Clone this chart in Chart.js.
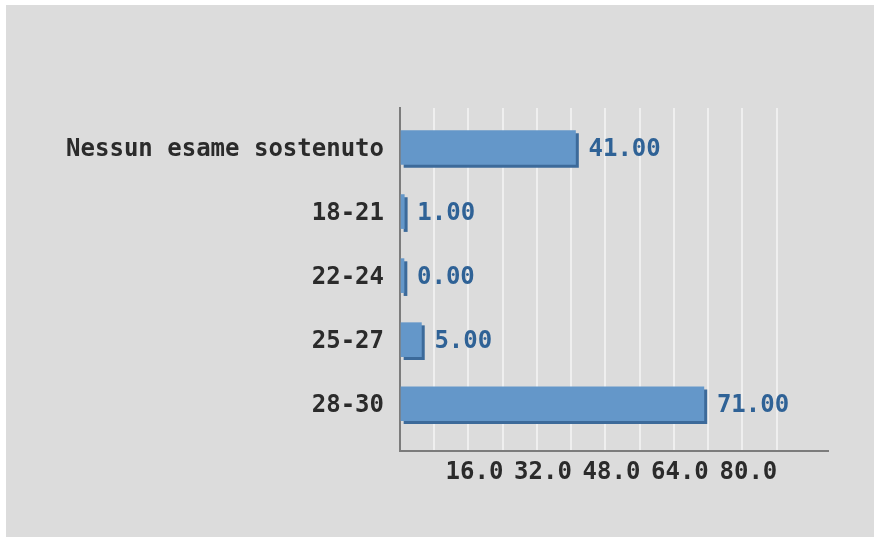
<!DOCTYPE html>
<html>
<head>
<meta charset="utf-8">
<script src="https://cdn.jsdelivr.net/npm/chart.js@4.4.1/dist/chart.umd.min.js"></script>
<style>
  body { margin: 0; background: #ffffff; }
  #sfondo { position: absolute; left: 6px; top: 5px; width: 868px; height: 532px; background: #dcdcdc; }
  #myChart { position: absolute; left: 0; top: 0; }
</style>
</head>
<body>
<div id="sfondo"></div>
<canvas id="myChart" width="880" height="542"></canvas>
<script>
const categorie = ['Nessun esame sostenuto', '18-21', '22-24', '25-27', '28-30'];
const valori = [41, 1, 0, 5, 71];
const tickX = [16, 32, 48, 64, 80];

const fontBase = { family: '"DejaVu Sans Mono", monospace', size: 24, weight: 'bold' };

// ombra sotto le barre + etichette dei valori
const ombraEValori = {
    id: 'ombraEValori',
    beforeDatasetsDraw(chart) {
        const ctx = chart.ctx;
        ctx.save();
        ctx.shadowColor = '#3c6a9a';
        ctx.shadowOffsetX = 3;
        ctx.shadowOffsetY = 3;
        ctx.shadowBlur = 0;
    },
    afterDatasetsDraw(chart) {
        const ctx = chart.ctx;
        ctx.restore();
        ctx.save();
        ctx.font = 'bold 24px "DejaVu Sans Mono", monospace';
        ctx.fillStyle = '#2f6296';
        ctx.textBaseline = 'middle';
        ctx.textAlign = 'left';
        chart.getDatasetMeta(0).data.forEach((bar, i) => {
            ctx.fillText(valori[i].toFixed(2), bar.x + 13, bar.y + 2);
        });
        ctx.restore();
    }
};

const ctx = document.getElementById('myChart').getContext('2d');
const myChart = new Chart(ctx, {
    type: 'bar',
    data: {
        datasets: [{
            data: valori.map((v, i) => ({ x: v, y: i })),
            backgroundColor: '#6497c9',
            borderWidth: 0,
            barThickness: 34,
            minBarLength: 4
        }]
    },
    options: {
        indexAxis: 'y',
        responsive: false,
        animation: false,
        layout: { padding: { top: 108, right: 52, bottom: 0, left: 0 } },
        plugins: { legend: { display: false }, tooltip: { enabled: false } },
        scales: {
            x: {
                type: 'linear',
                min: 0,
                max: 100,
                afterFit: s => { s.height = 91; },
                ticks: {
                    stepSize: 8,
                    autoSkip: false,
                    maxRotation: 0,
                    padding: 7,
                    labelOffset: 6,
                    color: '#2b2b2b',
                    font: fontBase,
                    callback: v => tickX.includes(v) ? v.toFixed(1) : ''
                },
                grid: {
                    drawTicks: false,
                    lineWidth: 2,
                    color: c => (c.tick && c.tick.value > 0 && c.tick.value < 100) ? '#efefef' : 'rgba(0,0,0,0)'
                },
                border: { display: true, color: '#7c7c7c', width: 2 }
            },
            y: {
                type: 'linear',
                reverse: true,
                offset: false,
                min: -0.617,
                max: 4.738,
                afterFit: s => { s.width = 400; },
                ticks: {
                    stepSize: 1,
                    includeBounds: false,
                    autoSkip: false,
                    padding: 16,
                    labelOffset: 2,
                    color: '#2b2b2b',
                    font: fontBase,
                    callback: v => Number.isInteger(v) ? categorie[v] : ''
                },
                grid: { display: false, drawTicks: false },
                border: { display: true, color: '#7c7c7c', width: 2 }
            }
        }
    },
    plugins: [ombraEValori]
});
</script>
</body>
</html>
